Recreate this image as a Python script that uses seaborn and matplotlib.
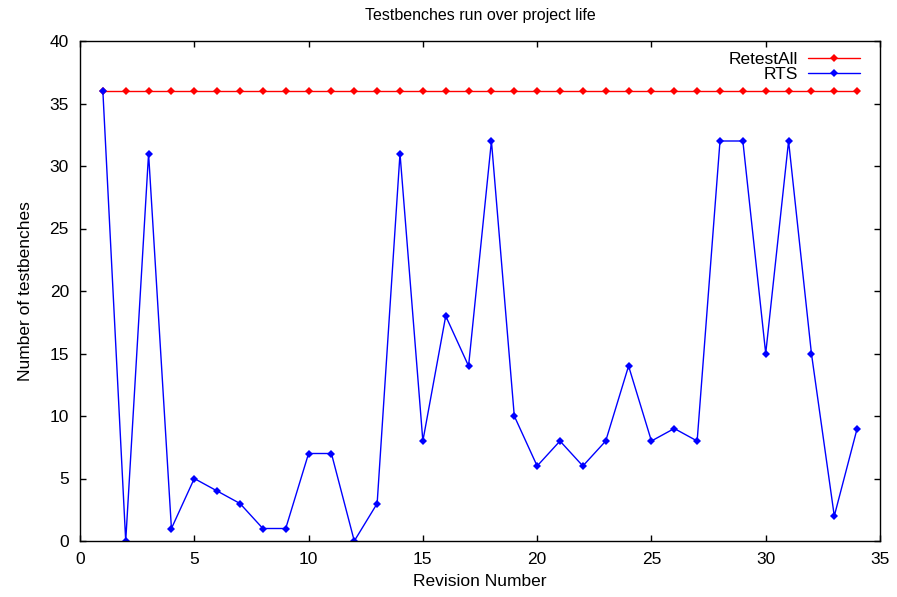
import matplotlib
matplotlib.use("Agg")
import matplotlib.pyplot as plt
import seaborn as sns
import pandas as pd

revisions = list(range(1, 35))
retest_all = [36] * 34
rts = [36, 0, 31, 1, 5, 4, 3, 1, 1, 7, 7, 0, 3, 31, 8, 18, 14, 32, 10, 6,
       8, 6, 8, 14, 8, 9, 8, 32, 32, 15, 32, 15, 2, 9]
x_ticks = [0, 5, 10, 15, 20, 25, 30, 35]
y_ticks = [0, 5, 10, 15, 20, 25, 30, 35, 40]

sns.set_style("ticks")
plt.rcParams['font.family'] = ['Liberation Sans', 'DejaVu Sans']
plt.rcParams['text.color'] = 'black'
plt.rcParams['axes.labelcolor'] = 'black'
plt.rcParams['xtick.color'] = 'black'
plt.rcParams['ytick.color'] = 'black'

df = pd.DataFrame({
    "Revision": revisions * 2,
    "Value": retest_all + rts,
    "Series": ["RetestAll"] * 34 + ["RTS"] * 34,
})

fig = plt.figure(figsize=(8.97, 5.97), dpi=100)
ax = fig.add_axes([80/897, 1-541/597, 800/897, 500/597])

sns.lineplot(data=df, x="Revision", y="Value", hue="Series",
             palette={"RetestAll": "#ff0000", "RTS": "#0000ff"},
             marker="D", markersize=4.5, markeredgewidth=0, linewidth=1,
             ax=ax, legend=True)

ax.set_xlim(0, 35)
ax.set_ylim(0, 40)
ax.set_xticks(x_ticks)
ax.set_yticks(y_ticks)
ax.tick_params(direction="in", top=True, right=True, labelsize=12.5, length=4.5, width=1, pad=8)
for s in ax.spines.values():
    s.set_visible(True)
    s.set_linewidth(1)
    s.set_color("black")
ax.set_xlabel("Revision Number", fontsize=12.5, labelpad=5)
ax.set_ylabel("Number of testbenches", fontsize=12.5, labelpad=12)
ax.set_title("Testbenches run over project life", fontsize=11.5, pad=15)

handles, labels = ax.get_legend_handles_labels()
leg = ax.legend(handles, labels, loc="upper right", bbox_to_anchor=(0.975, 0.978),
                frameon=False, fontsize=12.5,
                markerfirst=False, handlelength=3.0, borderaxespad=0,
                borderpad=0, labelspacing=0.0, handletextpad=0.6)

fig.savefig("out.png", dpi=100)
